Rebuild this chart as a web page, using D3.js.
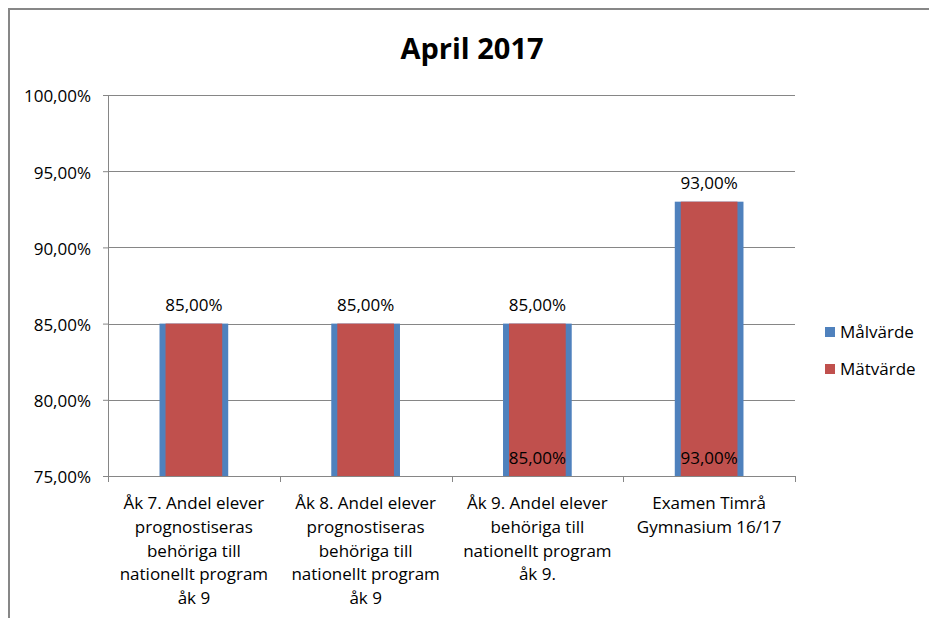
<!DOCTYPE html>
<html>
<head>
<meta charset="utf-8">
<script src="https://cdn.jsdelivr.net/npm/d3@7"></script>
<style>
  body { margin: 0; background: #fff; }
  text { font-family: "Open Sans", sans-serif; fill: #000; }
</style>
</head>
<body>
<div id="chart"></div>
<script>
// chart data
var categories = [
  ["Åk 7. Andel elever", "prognostiseras", "behöriga till", "nationellt program", "åk 9"],
  ["Åk 8. Andel elever", "prognostiseras", "behöriga till", "nationellt program", "åk 9"],
  ["Åk 9. Andel elever", "behöriga till", "nationellt program", "åk 9."],
  ["Examen Timrå", "Gymnasium 16/17"]
];
var malvarde = [0.85, 0.85, 0.85, 0.93];
var matvarde = [0.85, 0.85, 0.85, 0.93];
var matLabelShown = [false, false, true, true];
var yTicks = [0.75, 0.80, 0.85, 0.90, 0.95, 1.00];
var seriesNames = ["Målvärde", "Mätvärde"];
var colors = ["#4F81BD", "#C0504D"];

var W = 929, H = 618;
var margin = { top: 95, left: 108, right: 134, bottom: 142 };
var width = W - margin.left - margin.right,
  height = H - margin.top - margin.bottom;

var svg = d3.select("#chart").append("svg")
  .attr("width", W)
  .attr("height", H);

// outer frame
svg.append("rect")
  .attr("x", 9).attr("y", 9)
  .attr("width", 1000).attr("height", 1000)
  .attr("fill", "none")
  .attr("stroke", "#878787")
  .attr("stroke-width", 2);

svg.append("text")
  .attr("x", 472).attr("y", 59)
  .attr("text-anchor", "middle")
  .style("font-size", "29px")
  .style("font-weight", "bold")
  .text("April 2017");

var g = svg.append("g")
  .attr("transform", "translate(" + margin.left + "," + margin.top + ")");

var x = d3.scaleBand()
  .domain(d3.range(categories.length))
  .range([0, width]);

var y = d3.scaleLinear()
  .domain([0.75, 1.0])
  .range([height, 0]);

var fmt = function (v) { return d3.format(".2f")(v * 100).replace(".", ",") + "%"; };

// gridlines
g.append("g")
  .selectAll("line")
  .data(yTicks)
  .enter().append("line")
  .attr("x1", 0).attr("x2", width)
  .attr("y1", function (d) { return Math.round(y(d)) + 0.5; })
  .attr("y2", function (d) { return Math.round(y(d)) + 0.5; })
  .attr("stroke", "#868686");

// y axis
var yAxis = g.append("g")
  .call(d3.axisLeft(y).tickValues(yTicks).tickSize(5).tickSizeOuter(0).tickFormat(fmt));
yAxis.select(".domain").attr("stroke", "#868686");
yAxis.selectAll(".tick line").attr("stroke", "#868686");
yAxis.selectAll(".tick text")
  .attr("x", -17)
  .attr("dy", "0.4em")
  .style("font-size", "17px")
  .style("font-family", "'Open Sans', sans-serif");

// x axis
var xAxisG = g.append("g").attr("transform", "translate(0," + height + ")");
xAxisG.append("line")
  .attr("x1", 0).attr("x2", width)
  .attr("y1", 0.5).attr("y2", 0.5)
  .attr("stroke", "#868686");
xAxisG.selectAll(".xt")
  .data(d3.range(categories.length + 1))
  .enter().append("line")
  .attr("x1", function (d) { return Math.round(d * x.step()) + 0.5; })
  .attr("x2", function (d) { return Math.round(d * x.step()) + 0.5; })
  .attr("y1", 0).attr("y2", 6)
  .attr("stroke", "#868686");

xAxisG.selectAll(".xl")
  .data(categories)
  .enter().append("text")
  .attr("text-anchor", "middle")
  .attr("transform", function (d, i) { return "translate(" + (x(i) + x.bandwidth() / 2) + ",0)"; })
  .style("font-size", "17px")
  .selectAll("tspan")
  .data(function (d) { return d; })
  .enter().append("tspan")
  .attr("x", 0)
  .attr("y", function (d, j) { return 33 + j * 23.8; })
  .text(function (d) { return d; });

// bars: Målvärde behind (wider), Mätvärde in front
var blueW = x.bandwidth() * 0.40, redW = x.bandwidth() * 0.33;

g.selectAll(".mal")
  .data(malvarde)
  .enter().append("rect")
  .attr("x", function (d, i) { return x(i) + (x.bandwidth() - blueW) / 2; })
  .attr("y", function (d) { return y(d); })
  .attr("width", blueW)
  .attr("height", function (d) { return height - y(d); })
  .attr("fill", colors[0]);

g.selectAll(".mat")
  .data(matvarde)
  .enter().append("rect")
  .attr("x", function (d, i) { return x(i) + (x.bandwidth() - redW) / 2; })
  .attr("y", function (d) { return y(d); })
  .attr("width", redW)
  .attr("height", function (d) { return height - y(d); })
  .attr("fill", colors[1]);

// value labels
g.selectAll(".topl")
  .data(malvarde)
  .enter().append("text")
  .attr("x", function (d, i) { return x(i) + x.bandwidth() / 2; })
  .attr("y", function (d) { return y(d) - 13; })
  .attr("text-anchor", "middle")
  .style("font-size", "17px")
  .text(fmt);

var bottomLabels = matvarde
  .map(function (v, i) { return { v: v, i: i }; })
  .filter(function (d) { return matLabelShown[d.i]; });

g.selectAll(".botl")
  .data(bottomLabels)
  .enter().append("text")
  .attr("x", function (d) { return x(d.i) + x.bandwidth() / 2; })
  .attr("y", height - 12)
  .attr("text-anchor", "middle")
  .style("font-size", "17px")
  .text(function (d) { return fmt(d.v); });

// legend
var legend = svg.append("g").attr("transform", "translate(825,327)");
legend.selectAll("rect")
  .data(seriesNames)
  .enter().append("rect")
  .attr("x", 0)
  .attr("y", function (d, i) { return i * 37; })
  .attr("width", 10).attr("height", 10)
  .attr("fill", function (d, i) { return colors[i]; });
legend.selectAll("text")
  .data(seriesNames)
  .enter().append("text")
  .attr("x", 15)
  .attr("y", function (d, i) { return i * 37 + 11; })
  .style("font-size", "17px")
  .text(function (d) { return d; });
</script>
</body>
</html>
